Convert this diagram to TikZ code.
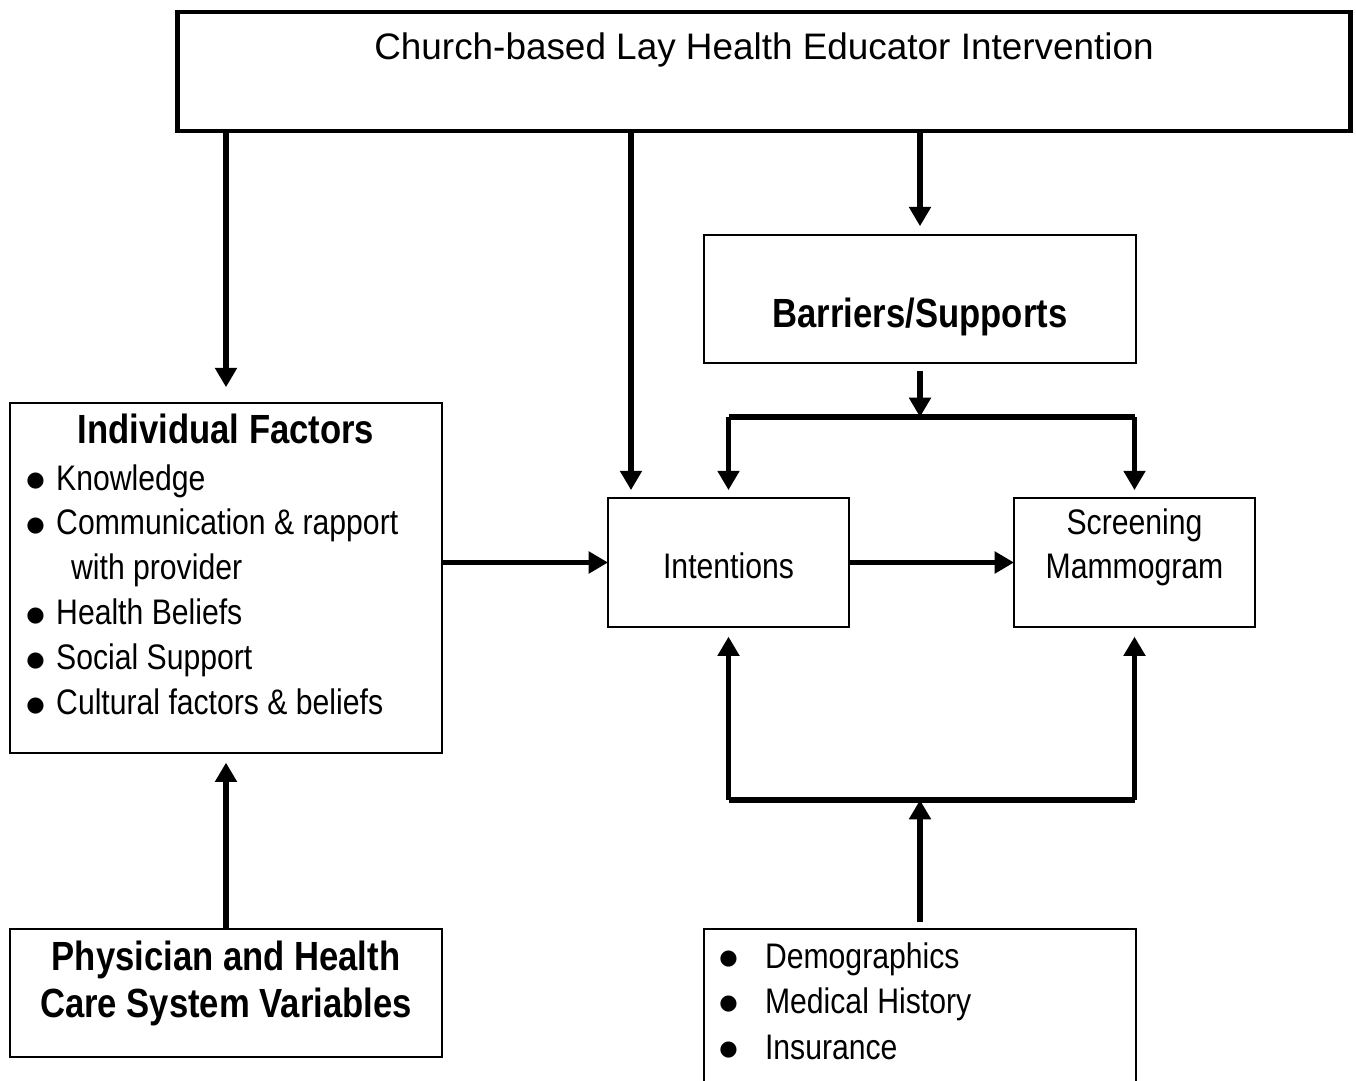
\documentclass[tikz,border=0pt]{standalone}
\usepackage{fontspec}
\setmainfont{Liberation Sans}
\newfontfamily\narrowfont[FakeStretch=0.85]{Liberation Sans}
\newfontfamily\symfont{DejaVu Sans}
\usepackage{tikz}
\usetikzlibrary{
	arrows.meta,
	positioning,
	calc
}
\usepackage{xcolor}

\newcommand{\bigbul}{\raisebox{2.2pt}{\symfont\fontsize{12}{12}\selectfont ●}}
\newcommand{\bul}{\makebox[17pt][l]{\bigbul}}
\newcommand{\wbul}{\makebox[26pt][l]{\bigbul}}

\tikzset{
	box/.style={draw,line width=1pt,rectangle,inner sep=0pt,outer sep=0pt},
	thickbox/.style={draw,line width=2.8pt,rectangle,inner sep=0pt,outer sep=0pt},
	conn/.style={line width=3pt,-{Triangle[length=11pt,width=12pt]}},
	bar/.style={line width=3pt},
	titletext/.style={anchor=base,inner sep=0pt,font=\fontsize{21}{25}\selectfont},
	plaintext/.style={anchor=base,inner sep=0pt,align=center,font=\narrowfont\fontsize{20.2}{24.5}\selectfont},
	boldtext/.style={anchor=base,inner sep=0pt,align=center,font=\narrowfont\bfseries\fontsize{23.2}{26.7}\selectfont},
	listtext/.style={anchor=base west,inner sep=0pt,font=\narrowfont\fontsize{20.2}{25.6}\selectfont}
}

\begin{document}
\begin{tikzpicture}[x=0.02cm,y=-0.02cm]
		\clip (0,0) rectangle (1356,1081);
		
		% Intervention
		\node[thickbox,minimum width=23.48cm,minimum height=2.38cm] (church) at (764,71.5) {};
		\node[titletext] (churchtext) at (764,60) {Church-based Lay Health Educator Intervention};
		
		% Barriers
		\node[box,minimum width=8.64cm,minimum height=2.56cm] (barr) at (920,299) {};
		\node[boldtext] (barrtext) at (920,327) {Barriers/Supports};
		
		% Individual factors
		\node[box,minimum width=8.64cm,minimum height=7cm] (indiv) at (226,578) {};
		\node[boldtext] (indivtitle) at (226,443) {Individual Factors};
		\node[listtext] (indivlist) at (26,490) {\begin{tabular}[t]{@{}l@{}}
			\bul Knowledge\\
			\bul Communication \& rapport\\
			\hspace{25.5pt}with provider\\
			\bul Health Beliefs\\
			\bul Social Support\\
			\bul Cultural factors \& beliefs
		\end{tabular}};
		
		% Intentions and mammogram
		\node[box,minimum width=4.82cm,minimum height=2.58cm] (intent) at (728.5,562.5) {};
		\node[plaintext] (intenttext) at (728.5,578) {Intentions};
		\node[box,minimum width=4.82cm,minimum height=2.58cm] (screen) at (1134.5,562.5) {};
		\node[plaintext] (screentext) at (1134.5,578) {Screening\\Mammogram};
		
		% Physician
		\node[box,minimum width=8.64cm,minimum height=2.56cm] (phys) at (226,993) {};
		\node[boldtext] (phystext) at (226,1017) {Physician and Health\\Care System Variables};
		
		% Demographics
		\node[box,minimum width=8.64cm,minimum height=3.32cm] (demo) at (920,1012) {};
		\node[listtext,font=\narrowfont\fontsize{20.2}{26}\selectfont] (demolist) at (719,968) {\begin{tabular}[t]{@{}l@{}}
			\wbul Demographics\\
			\wbul Medical History\\
			\wbul Insurance
		\end{tabular}};
		
		% Arrows from the intervention
		\coordinate (k1) at (631,0);
		\draw[conn,shorten >=9pt] (indiv.north |- church.south) -- (indiv.north);
		\draw[conn,shorten >=4.5pt] (k1 |- church.south) -- (k1 |- intent.north);
		\draw[conn,shorten >=5pt] (barr.north |- church.south) -- (barr.north);
		
		% Barriers split
		\coordinate (split) at (920,417);
		\draw[conn,shorten <=4.5pt] (barr.south) -- (split);
		\draw[bar] (intent.north |- split) -- (screen.north |- split);
		\draw[conn,shorten >=4.5pt] (intent.north |- split) -- (intent.north);
		\draw[conn,shorten >=4.5pt] (screen.north |- split) -- (screen.north);
		
		% Main path
		\draw[conn] (indiv.east |- intent.west) -- (intent.west);
		\draw[conn] (intent.east) -- (screen.west);
		\draw[conn,shorten >=5.5pt] (phys.north) -- (indiv.south);
		
		% Demographics join
		\coordinate (join) at (920,800);
		\draw[bar] (intent.south |- join) -- (screen.south |- join);
		\draw[conn,shorten <=4pt] (demo.north) -- (join);
		\draw[conn,shorten >=5.5pt] (intent.south |- join) -- (intent.south);
		\draw[conn,shorten >=5.5pt] (screen.south |- join) -- (screen.south);
		
	\end{tikzpicture}
\end{document}
